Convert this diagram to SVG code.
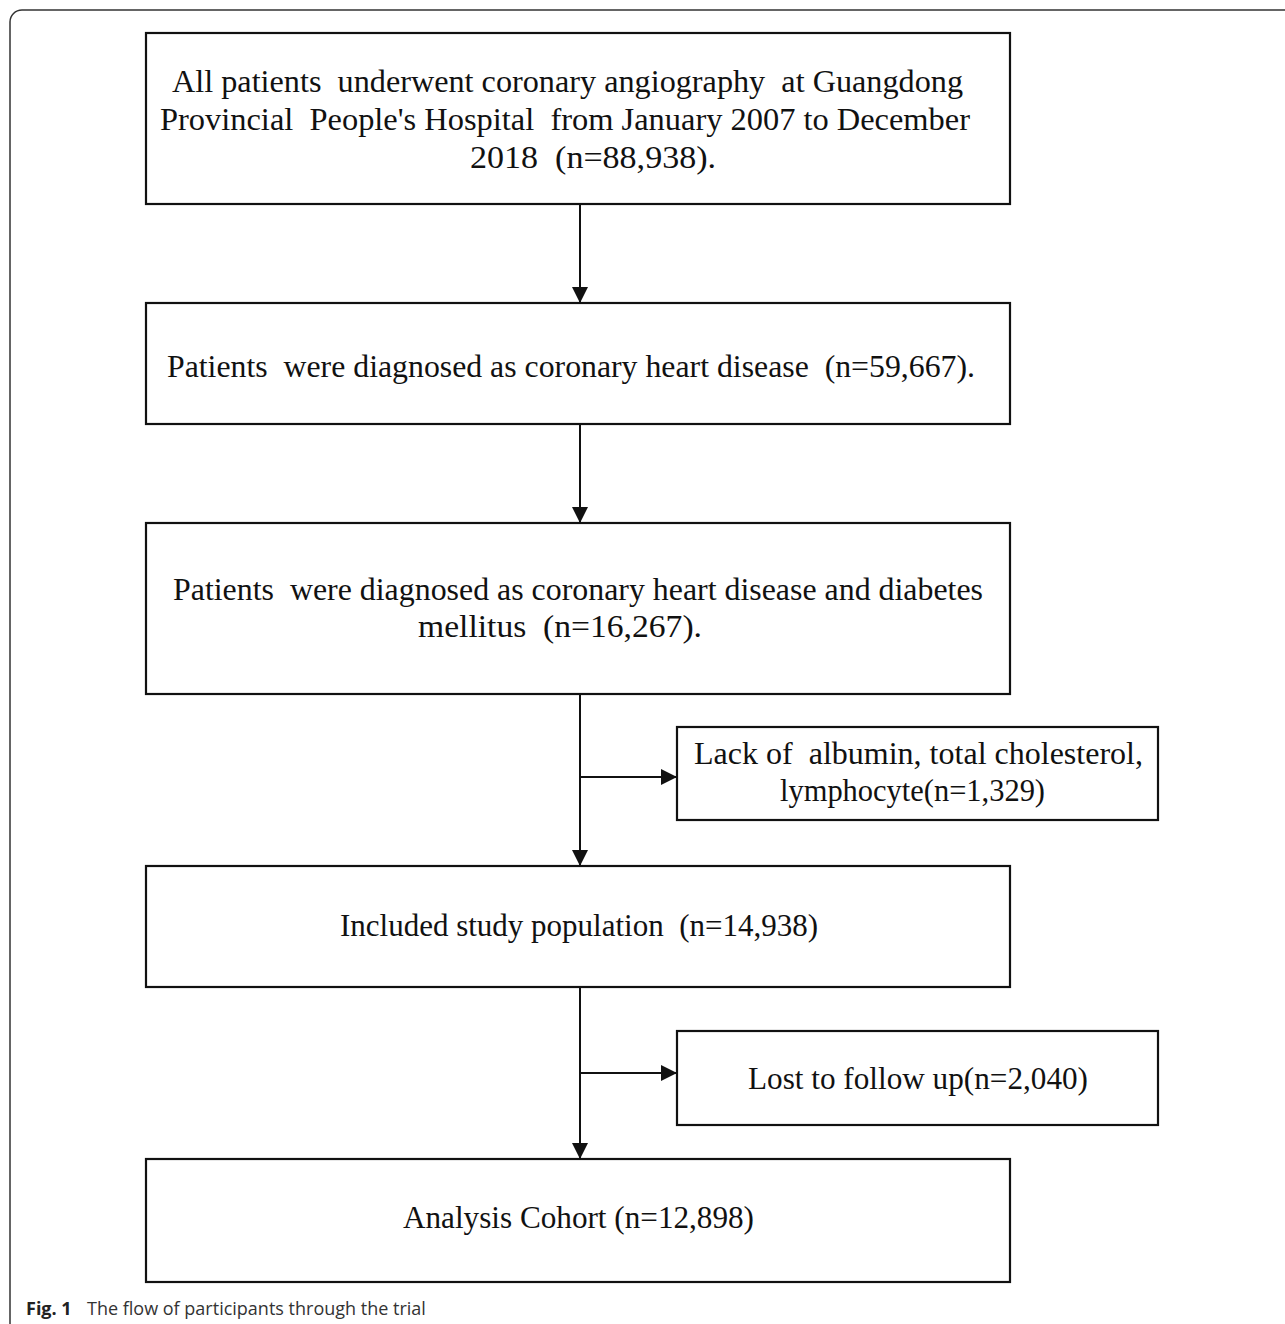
<svg xmlns="http://www.w3.org/2000/svg" width="1285" height="1324" viewBox="0 0 1285 1324">
<defs>
<style>
.box{fill:#fff;stroke:#111;stroke-width:2.2}
.t{font-family:"Liberation Serif","Times New Roman",serif;font-size:32px;fill:#111}
.c{stroke:#111;stroke-width:2;fill:none}
.cap{font-family:"Open Sans","Noto Sans",sans-serif;font-size:18px;fill:#333}
</style>
<marker id="ah" markerUnits="userSpaceOnUse" markerWidth="16" markerHeight="16" refX="16" refY="8" orient="auto">
<path d="M0,0 L16,8 L0,16 z" fill="#111"/>
</marker>
</defs>
<rect x="0" y="0" width="1285" height="1324" fill="#fff"/>
<rect x="10" y="10" width="1300" height="1325" rx="12" ry="12" fill="none" stroke="#333" stroke-width="1.5"/>

<g id="n1">
<rect class="box" x="146" y="33" width="864" height="171"/>
<text class="t" x="172" y="92" textLength="791" lengthAdjust="spacingAndGlyphs" xml:space="preserve">All patients  underwent coronary angiography  at Guangdong</text>
<text class="t" x="160" y="130" textLength="810" lengthAdjust="spacingAndGlyphs" xml:space="preserve">Provincial  People's Hospital  from January 2007 to December</text>
<text class="t" x="470" y="168" textLength="246" lengthAdjust="spacingAndGlyphs" xml:space="preserve">2018  (n=88,938).</text>
</g>
<g id="n2">
<rect class="box" x="146" y="303" width="864" height="121"/>
<text class="t" x="167" y="377" textLength="808" lengthAdjust="spacingAndGlyphs" xml:space="preserve">Patients  were diagnosed as coronary heart disease  (n=59,667).</text>
</g>
<g id="n3">
<rect class="box" x="146" y="523" width="864" height="171"/>
<text class="t" x="173" y="600" textLength="810" lengthAdjust="spacingAndGlyphs" xml:space="preserve">Patients  were diagnosed as coronary heart disease and diabetes</text>
<text class="t" x="418" y="637" textLength="284" lengthAdjust="spacingAndGlyphs" xml:space="preserve">mellitus  (n=16,267).</text>
</g>
<g id="n4">
<rect class="box" x="677" y="727" width="481" height="93"/>
<text class="t" x="694" y="764" textLength="449" lengthAdjust="spacingAndGlyphs" xml:space="preserve">Lack of  albumin, total cholesterol,</text>
<text class="t" x="780" y="801" textLength="265" lengthAdjust="spacingAndGlyphs">lymphocyte(n=1,329)</text>
</g>
<g id="n5">
<rect class="box" x="146" y="866" width="864" height="121"/>
<text class="t" x="340" y="936" textLength="478" lengthAdjust="spacingAndGlyphs" xml:space="preserve">Included study population  (n=14,938)</text>
</g>
<g id="n6">
<rect class="box" x="677" y="1031" width="481" height="94"/>
<text class="t" x="748" y="1089" textLength="340" lengthAdjust="spacingAndGlyphs">Lost to follow up(n=2,040)</text>
</g>
<g id="n7">
<rect class="box" x="146" y="1159" width="864" height="123"/>
<text class="t" x="403" y="1228" textLength="351" lengthAdjust="spacingAndGlyphs">Analysis Cohort (n=12,898)</text>
</g>

<g id="connectors">
<line class="c" x1="580" y1="204" x2="580" y2="303" marker-end="url(#ah)"/>
<line class="c" x1="580" y1="424" x2="580" y2="523" marker-end="url(#ah)"/>
<line class="c" x1="580" y1="694" x2="580" y2="866" marker-end="url(#ah)"/>
<line class="c" x1="580" y1="777" x2="677" y2="777" marker-end="url(#ah)"/>
<line class="c" x1="580" y1="987" x2="580" y2="1159" marker-end="url(#ah)"/>
<line class="c" x1="580" y1="1073" x2="677" y2="1073" marker-end="url(#ah)"/>
</g>

<text class="cap" x="26" y="1315"><tspan font-weight="bold" fill="#222">Fig. 1</tspan><tspan x="87">The flow of participants through the trial</tspan></text>
</svg>
